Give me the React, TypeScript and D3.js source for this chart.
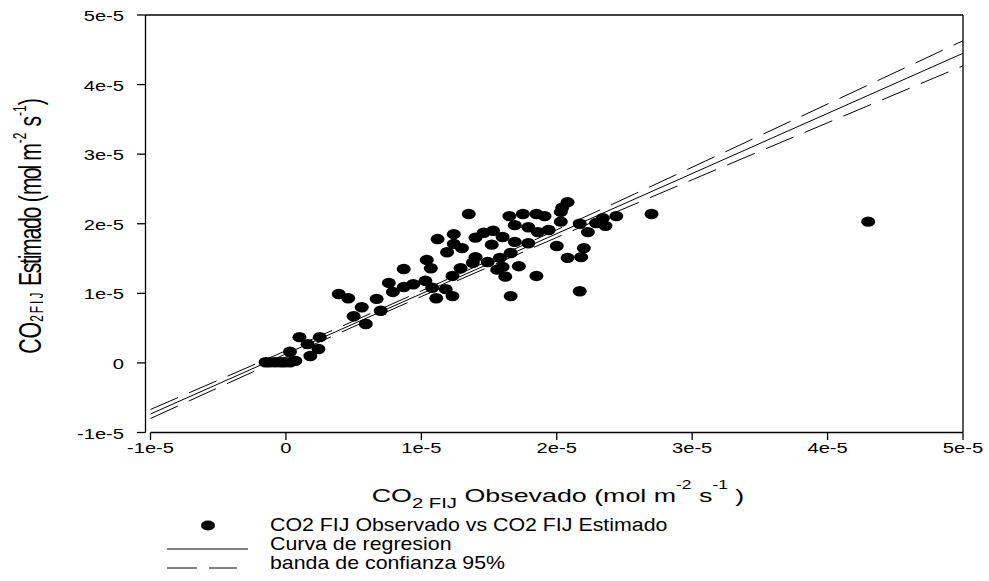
import { useEffect, useRef } from "react"
import * as d3 from "d3"

const W = 989
const H = 581

// values in units of 1e-5 mol m-2 s-1
const obsX = [
  -0.15, -0.12, -0.08, -0.04, -0.01, 0.03, 0.07,
  0.10, 0.25, 0.16, 0.24, 0.03, 0.18,
  0.39, 0.46, 0.67, 0.56, 0.70, 0.50, 0.59,
  0.76, 0.87, 1.04, 1.07, 0.79, 0.87, 0.94, 1.03, 1.08, 1.11, 1.23, 1.18, 1.23, 1.29,
  1.12, 1.24, 1.24, 1.19, 1.30, 1.35, 1.40, 1.46, 1.53, 1.60, 1.52, 1.40, 1.38, 1.49, 1.58, 1.66, 1.60, 1.62, 1.56, 1.72, 1.85, 1.66,
  1.65, 1.75, 1.85, 1.91, 2.03, 2.08, 2.04, 1.69, 1.79, 1.86, 1.94, 2.03, 2.17, 2.29, 2.34, 2.44, 2.70, 2.23, 2.36,
  1.69, 1.79, 2.00, 2.20, 2.08, 2.18, 2.17, 4.30,
]
const estY = [
  0.01, 0.01, 0.01, 0.01, 0.01, 0.01, 0.03,
  0.37, 0.37, 0.27, 0.20, 0.16, 0.10,
  0.99, 0.93, 0.92, 0.80, 0.75, 0.67, 0.56,
  1.15, 1.35, 1.48, 1.36, 1.02, 1.09, 1.13, 1.18, 1.08, 0.93, 0.96, 1.06, 1.25, 1.36,
  1.78, 1.85, 1.71, 1.59, 1.65, 2.14, 1.80, 1.87, 1.90, 1.81, 1.70, 1.52, 1.44, 1.45, 1.51, 1.58, 1.38, 1.24, 1.34, 1.39, 1.25, 0.96,
  2.11, 2.14, 2.14, 2.11, 2.17, 2.31, 2.23, 1.98, 1.95, 1.88, 1.91, 2.03, 2.00, 2.01, 2.08, 2.11, 2.14, 1.88, 1.97,
  1.74, 1.72, 1.68, 1.65, 1.51, 1.52, 1.03, 2.03,
]

const regX = [-1, 5]
const regY = [-0.734, 4.45]

const bandX = [-1, 0, 1, 2, 3, 4, 5]
const bandUpper = [-0.669, 0.175, 1.034, 1.913, 2.812, 3.721, 4.63]
const bandLower = [-0.799, 0.085, 0.954, 1.803, 2.632, 3.451, 4.27]

const xTicks = [-1, 0, 1, 2, 3, 4, 5]
const yTicks = [-1, 0, 1, 2, 3, 4, 5]
const tickText = (v: number) => (v === 0 ? "0" : `${v}e-5`)

const legendLabels = [
  "CO2 FIJ Observado vs CO2 FIJ Estimado",
  "Curva de regresion",
  "banda de confianza 95%",
]

const FONT = "Arial, 'Liberation Sans', sans-serif"

export default function App() {
  const svgRef = useRef<SVGSVGElement>(null)

  useEffect(() => {
    document.body.style.margin = "0"
    if (!svgRef.current) return
    const svg = d3.select(svgRef.current)
    svg.selectAll("*").remove()

    const x = d3.scaleLinear().domain([-1, 5]).range([150.5, 963])
    const y = d3.scaleLinear().domain([-1, 5]).range([432.5, 15])

    const ink = "#000"

    // frame / axes
    svg.append("line").attr("x1", 145.5).attr("x2", 145.5).attr("y1", 15).attr("y2", 432.5)
      .attr("stroke", ink).attr("stroke-width", 1.3)
    svg.append("line").attr("x1", 145.5).attr("x2", 963).attr("y1", 15).attr("y2", 15)
      .attr("stroke", ink).attr("stroke-width", 1.3)
    svg.append("line").attr("x1", 963).attr("x2", 963).attr("y1", 15).attr("y2", 432.5)
      .attr("stroke", ink).attr("stroke-width", 1.3)
    svg.append("line").attr("x1", 150.5).attr("x2", 963).attr("y1", 432.5).attr("y2", 432.5)
      .attr("stroke", ink).attr("stroke-width", 1.3)

    // ticks
    const label = (tx: number, ty: number, anchor: string, sx: number, size: number, txt: string) => {
      svg.append("g").attr("transform", `translate(${tx},${ty}) scale(${sx},1)`)
        .append("text").attr("text-anchor", anchor).attr("font-family", FONT)
        .attr("font-size", size).attr("fill", ink).text(txt)
    }
    xTicks.forEach((v) => {
      svg.append("line").attr("x1", x(v)).attr("x2", x(v)).attr("y1", 432.5).attr("y2", 440)
        .attr("stroke", ink).attr("stroke-width", 1.3)
      label(x(v), 453, "middle", 1.3, 15.5, tickText(v))
    })
    yTicks.forEach((v) => {
      svg.append("line").attr("x1", 137).attr("x2", 145.5).attr("y1", y(v)).attr("y2", y(v))
        .attr("stroke", ink).attr("stroke-width", 1.3)
      label(124, y(v) + 6, "end", 1.3, 15.5, tickText(v))
    })

    // regression + confidence band
    const reg = d3.line<number>().x((d) => x(d)).y((_, i) => y(regY[i]))
    svg.append("path").datum(regX).attr("d", reg).attr("fill", "none")
      .attr("stroke", ink).attr("stroke-width", 1)
    const band = (vals: number[]) =>
      d3.line<number>().x((d) => x(d)).y((_, i) => y(vals[i])).curve(d3.curveMonotoneX)
    ;[bandUpper, bandLower].forEach((vals) => {
      svg.append("path").datum(bandX).attr("d", band(vals)).attr("fill", "none")
        .attr("stroke", ink).attr("stroke-width", 1).attr("stroke-dasharray", "30,12")
    })

    // points
    svg.append("g").selectAll("ellipse").data(obsX).join("ellipse")
      .attr("cx", (d) => x(d)).attr("cy", (_, i) => y(estY[i]))
      .attr("rx", 7).attr("ry", 5.2).attr("fill", ink)

    // x title
    const xt = svg.append("g").attr("transform", "translate(558,502) scale(1.45,1)")
      .append("text").attr("text-anchor", "middle").attr("font-family", FONT)
      .attr("font-size", 18.5).attr("fill", ink)
    xt.append("tspan").text("CO")
    xt.append("tspan").attr("dy", 6).attr("font-size", 14).text("2 FIJ")
    xt.append("tspan").attr("dy", -6).text(" Obsevado (mol m")
    xt.append("tspan").attr("dy", -13).attr("font-size", 12).text("-2")
    xt.append("tspan").attr("dy", 13).text(" s")
    xt.append("tspan").attr("dy", -13).attr("font-size", 12).text("-1")
    xt.append("tspan").attr("dy", 13).text(" )")

    // y title
    const yt = svg.append("g").attr("transform", "translate(41,226) rotate(-90) scale(0.665,1)")
      .append("text").attr("text-anchor", "middle").attr("font-family", FONT)
      .attr("font-size", 32).attr("fill", ink)
    yt.append("tspan").text("CO")
    yt.append("tspan").attr("dy", 2).attr("font-size", 18).attr("letter-spacing", 3).text("2FIJ")
    yt.append("tspan").attr("dy", -2).attr("letter-spacing", -2).text(" Estimado")
    yt.append("tspan").text(" (")
    yt.append("tspan").attr("letter-spacing", -3).text("mol")
    yt.append("tspan").text(" m")
    yt.append("tspan").attr("dy", -15).attr("font-size", 18).text("-2")
    yt.append("tspan").attr("dy", 15).text(" s")
    yt.append("tspan").attr("dy", -15).attr("font-size", 18).text("-1")
    yt.append("tspan").attr("dy", 15).text(")")

    // legend
    const lg = svg.append("g")
    lg.append("ellipse").attr("cx", 208).attr("cy", 525.5).attr("rx", 7).attr("ry", 5).attr("fill", ink)
    lg.append("line").attr("x1", 167).attr("x2", 248).attr("y1", 549).attr("y2", 549)
      .attr("stroke", ink).attr("stroke-width", 1)
    lg.append("line").attr("x1", 167).attr("x2", 237).attr("y1", 568).attr("y2", 568)
      .attr("stroke", ink).attr("stroke-width", 1).attr("stroke-dasharray", "30,12")
    legendLabels.forEach((t, i) => {
      svg.append("g").attr("transform", `translate(270,${531 + i * 19}) scale(1.22,1)`)
        .append("text").attr("font-family", FONT).attr("font-size", 17.5).attr("fill", ink).text(t)
    })
  }, [])

  return <svg ref={svgRef} width={W} height={H} style={{ display: "block", background: "#fff" }} />
}
